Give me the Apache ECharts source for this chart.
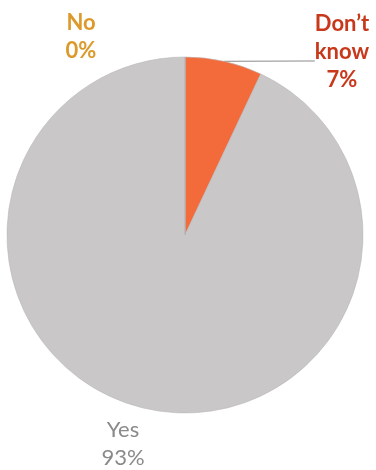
<!DOCTYPE html>
<html>
<head>
<meta charset="utf-8">
<script src="https://cdn.jsdelivr.net/npm/echarts@6/dist/echarts.min.js"></script>
<style>html,body{margin:0;padding:0;background:#fff}#c{width:376px;height:470px}</style>
</head>
<body>
<div id="c"></div>
<script>
var categories = ["Don\u2019t\nknow", "Yes", "No"];
var values = [7, 93, 0];
var percentLabels = ["7%", "93%", "0%"];
var colors = ["#f36b3b", "#c9c7c8", "#e0a02e"];
var labelColors = ["#c8381b", "#8a8a8a", "#dc9a2c"];

var chart = echarts.init(document.getElementById('c'));
var data = categories.map(function (c, i) {
  return {
    name: c,
    value: values[i],
    itemStyle: { color: colors[i] },
    label: {
      color: labelColors[i],
      fontWeight: i === 1 ? 'normal' : 'bold'
    },
    labelLine: { show: i === 0 }
  };
});
var labelSpots = [
  { x: 342, y: 61 },
  { x: 123, y: 444 },
  { x: 81, y: 37 }
];
chart.setOption({
  animation: false,
  backgroundColor: '#ffffff',
  series: [{
    type: 'pie',
    center: ['49.2%', '50%'],
    radius: 178,
    startAngle: 90,
    clockwise: true,
    data: data,
    itemStyle: { borderColor: '#b9b7b8', borderWidth: 0.6 },
    label: {
      show: true,
      position: 'outside',
      fontFamily: 'Lato',
      fontSize: 22,
      lineHeight: 28,
      align: 'center',
      overflow: 'none',
      rich: { s: { lineHeight: 18, fontSize: 10 } },
      formatter: function (p) {
        var t = p.name + '\n' + percentLabels[p.dataIndex];
        return p.dataIndex === 0 ? t + '\n{s| }' : t;
      }
    },
    labelLine: { show: true, lineStyle: { color: '#8a8a8a', width: 1 }, length: 10, length2: 10 },
    labelLayout: function (p) {
      var s = labelSpots[p.dataIndex];
      return { x: s.x, y: s.y, align: 'center', verticalAlign: 'middle' };
    }
  }]
});
</script>
</body>
</html>
